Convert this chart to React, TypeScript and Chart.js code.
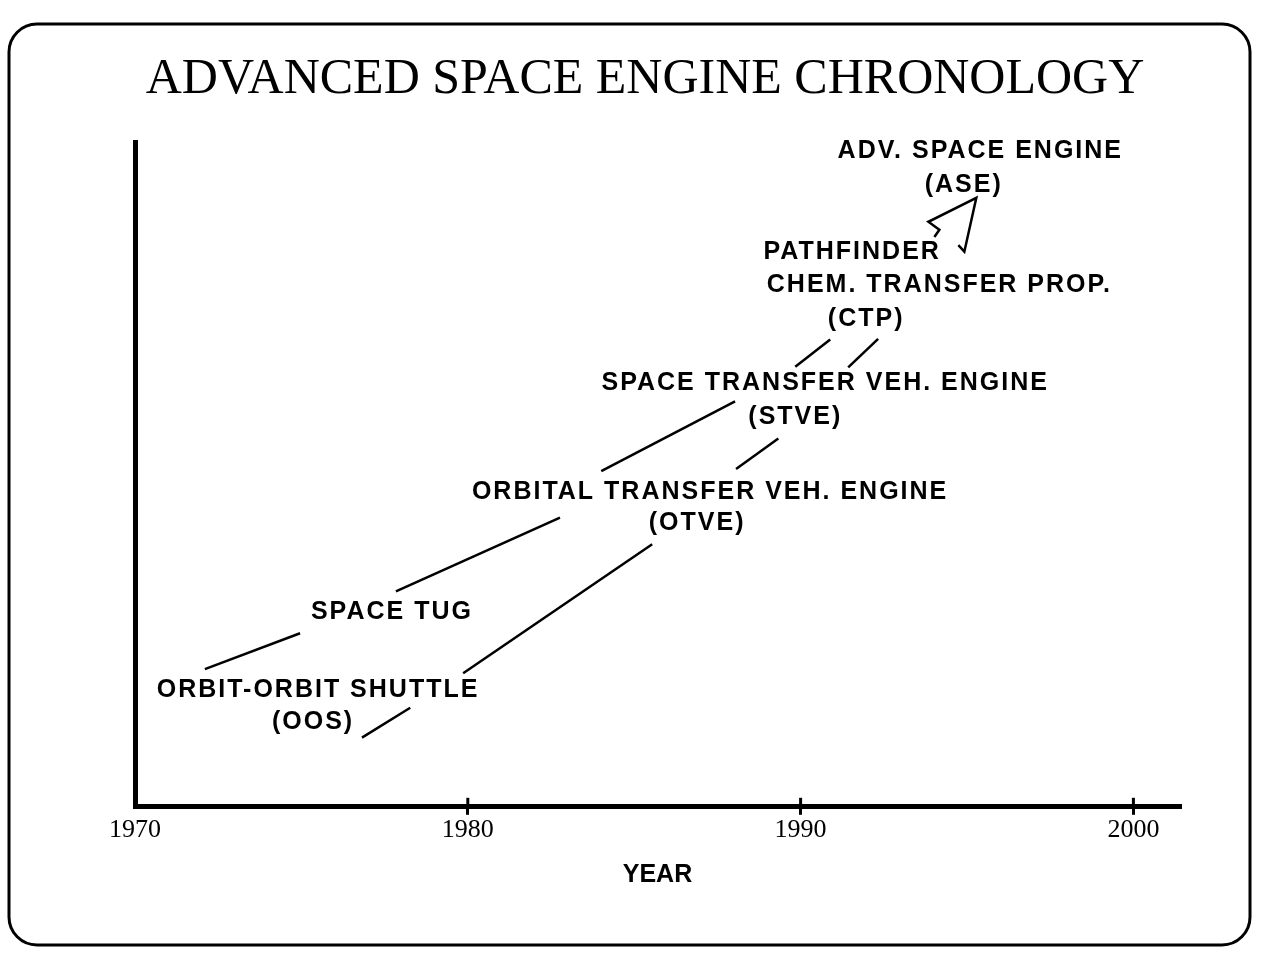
import React, { useEffect, useRef } from "react";
import { Chart, registerables } from "chart.js";

Chart.register(...registerables);

// ---------- data ----------
const chartTitle = "ADVANCED SPACE ENGINE CHRONOLOGY";
const axisTitle = "YEAR";
const tickYears = [1970, 1980, 1990, 2000];
const yearMin = 1970;
const yearMax = 2001.4;
const levelMin = 0;
const levelMax = 100;

const labelTexts = [
  "ADV. SPACE ENGINE",
  "(ASE)",
  "PATHFINDER",
  "CHEM. TRANSFER PROP.",
  "(CTP)",
  "SPACE TRANSFER VEH. ENGINE",
  "(STVE)",
  "ORBITAL TRANSFER VEH. ENGINE",
  "(OTVE)",
  "SPACE TUG",
  "ORBIT-ORBIT SHUTTLE",
  "(OOS)",
];
const labelYears = [1995.4, 1994.9, 1991.55, 1994.17, 1991.97, 1990.74, 1989.84, 1987.28, 1986.89, 1977.72, 1975.5, 1975.35];
const labelLevels = [98.6, 93.5, 83.5, 78.4, 73.3, 63.7, 58.6, 47.4, 42.6, 29.3, 17.6, 12.8];

// connector lines: [year, level] pairs
const linkOosTug = [[1972.1, 20.7], [1974.96, 26.1]];
const linkTugOtve = [[1977.84, 32.4], [1982.77, 43.5]];
const linkOosOtveA = [[1976.82, 10.4], [1978.27, 14.9]];
const linkOosOtveB = [[1979.86, 20.1], [1985.54, 39.5]];
const linkOtveStveA = [[1984.01, 50.5], [1988.03, 61.0]];
const linkOtveStveB = [[1988.06, 50.8], [1989.33, 55.4]];
const linkStveCtpA = [[1989.84, 66.2], [1990.89, 70.3]];
const linkStveCtpB = [[1991.43, 66.1], [1992.33, 70.4]];
const linkCtpAse = [[1994.02, 85.7], [1994.17, 86.8], [1993.84, 88.0], [1995.28, 91.6], [1994.92, 83.5], [1994.74, 84.5]];

const links = [
  linkOosTug,
  linkTugOtve,
  linkOosOtveA,
  linkOosOtveB,
  linkOtveStveA,
  linkOtveStveB,
  linkStveCtpA,
  linkStveCtpB,
  linkCtpAse,
];

// ---------- plugins ----------
const framePlugin = {
  id: "frame",
  beforeDraw(chart: any) {
    const ctx = chart.ctx;
    ctx.save();
    ctx.fillStyle = "#fff";
    ctx.fillRect(0, 0, chart.width, chart.height);
    ctx.strokeStyle = "#000";
    ctx.lineWidth = 3;
    ctx.beginPath();
    ctx.roundRect(9, 24, 1241, 921, 28);
    ctx.stroke();
    ctx.restore();
  },
};

const labelPlugin = {
  id: "chronoLabels",
  afterDatasetsDraw(chart: any) {
    const ctx = chart.ctx;
    const xs = chart.scales.x;
    const ys = chart.scales.y;
    ctx.save();
    ctx.font = 'bold 25px "Liberation Sans", Arial, sans-serif';
    try {
      (ctx as any).letterSpacing = "2px";
    } catch (e) {}
    ctx.textAlign = "center";
    ctx.textBaseline = "middle";
    ctx.fillStyle = "#000";
    labelTexts.forEach((t, i) => {
      ctx.fillText(t, xs.getPixelForValue(labelYears[i]), ys.getPixelForValue(labelLevels[i]));
    });
    ctx.restore();
  },
};

const tickCrossPlugin = {
  id: "tickCross",
  afterDraw(chart: any) {
    const ctx = chart.ctx;
    const xs = chart.scales.x;
    const yPix = chart.chartArea.bottom;
    ctx.save();
    ctx.strokeStyle = "#000";
    ctx.lineWidth = 3;
    xs.ticks.forEach((t: any) => {
      if (t.value === yearMin) return;
      const px = xs.getPixelForValue(t.value);
      ctx.beginPath();
      ctx.moveTo(px, yPix - 9);
      ctx.lineTo(px, yPix);
      ctx.stroke();
    });
    ctx.restore();
  },
};

export default function App() {
  const ref = useRef<HTMLCanvasElement>(null);

  useEffect(() => {
    if (!ref.current) return;
    const chart = new Chart(ref.current, {
      type: "line",
      data: {
        datasets: links.map((seg) => ({
          data: seg.map(([x, y]) => ({ x, y })),
          borderColor: "#000",
          borderWidth: 2.5,
          pointRadius: 0,
          tension: 0,
          fill: false,
        })),
      },
      options: {
        responsive: false,
        animation: false,
        events: [],
        layout: { padding: { left: 29, right: 0, top: 0, bottom: 65 } },
        plugins: {
          legend: { display: false },
          tooltip: { enabled: false },
          title: {
            display: true,
            text: chartTitle,
            color: "#000",
            font: { family: '"Liberation Serif", "Times New Roman", serif', size: 50, weight: "normal" },
            padding: { top: 50, bottom: 32 },
          },
        },
        scales: {
          x: {
            type: "linear",
            min: yearMin,
            max: yearMax,
            afterBuildTicks: (scale: any) => {
              scale.ticks = tickYears.map((v) => ({ value: v }));
            },
            ticks: {
              color: "#000",
              padding: 0,
              font: { family: '"Liberation Serif", "Times New Roman", serif', size: 26 },
              callback: (v: any) => String(v),
              maxRotation: 0,
              autoSkip: false,
            },
            grid: {
              display: true,
              drawOnChartArea: false,
              drawTicks: true,
              tickLength: 8,
              lineWidth: 3,
              color: (c: any) => (c.tick && c.tick.value === yearMin ? "rgba(0,0,0,0)" : "#000"),
            },
            border: { display: true, color: "#000", width: 5 },
            title: {
              display: true,
              text: axisTitle,
              color: "#000",
              font: { family: '"Liberation Sans", Arial, sans-serif', size: 25, weight: "bold" },
              padding: { top: 14, bottom: 0 },
            },
          },
          y: {
            type: "linear",
            min: levelMin,
            max: levelMax,
            afterFit: (scale: any) => {
              scale.width = 106;
            },
            ticks: { display: false },
            grid: { display: false, drawTicks: false },
            border: { display: true, color: "#000", width: 5 },
          },
          yRight: {
            type: "linear",
            position: "right",
            display: true,
            min: levelMin,
            max: levelMax,
            afterFit: (scale: any) => {
              scale.width = 81;
            },
            ticks: { display: false },
            grid: { display: false, drawTicks: false },
            border: { display: false },
          },
        },
      } as any,
      plugins: [framePlugin, labelPlugin, tickCrossPlugin],
    });
    return () => chart.destroy();
  }, []);

  return (
    <div style={{ position: "absolute", left: 0, top: 0, width: 1261, height: 955 }}>
      <canvas ref={ref} width={1261} height={955} style={{ display: "block", width: 1261, height: 955 }} />
    </div>
  );
}
